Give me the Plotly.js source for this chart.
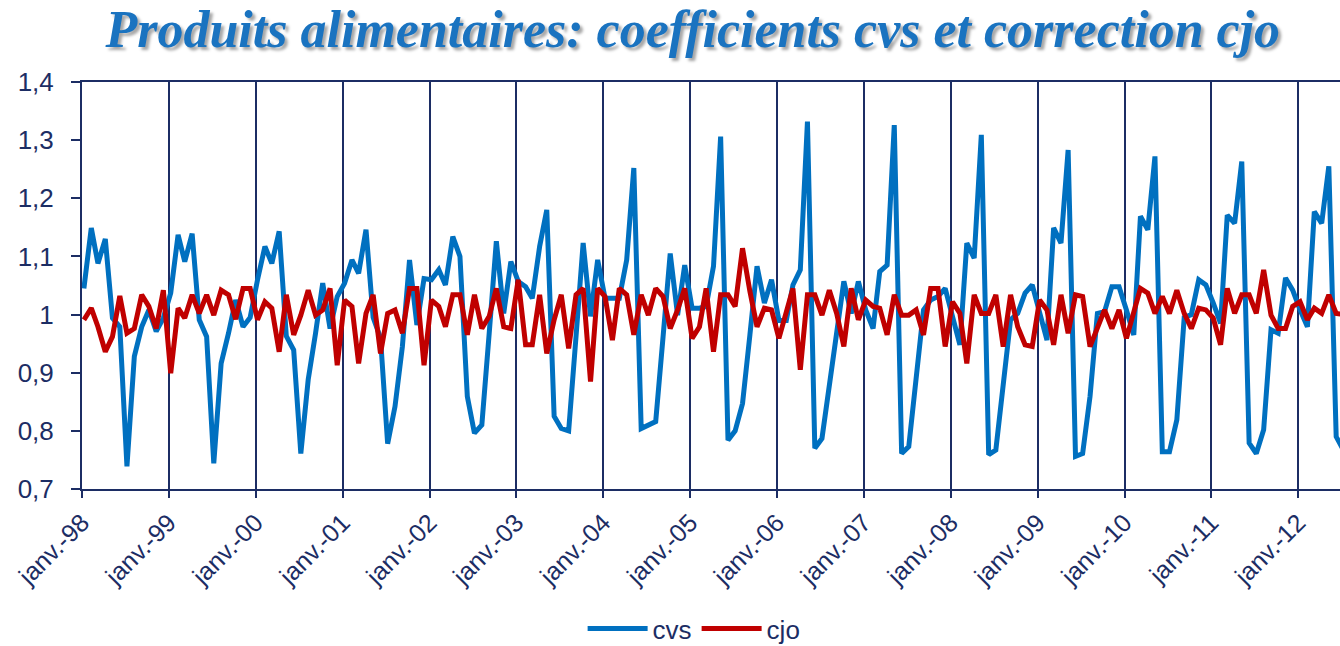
<!DOCTYPE html>
<html>
<head>
<meta charset="utf-8">
<script src="https://cdn.plot.ly/plotly-3.0.1.min.js"></script>
<style>html,body{margin:0;padding:0;background:#fff;}#chart{width:1340px;height:646px;}</style>
</head>
<body>
<div id="chart"></div>
<script>
// Monthly series, January 1998 onwards
const startYear = 1998;
const cvs = [
  1.045, 1.149, 1.088, 1.130, 0.994, 0.979, 0.739, 0.928, 0.979, 1.008, 0.971, 0.994,
  1.037, 1.137, 1.091, 1.139, 0.991, 0.962, 0.744, 0.916, 0.968, 1.025, 0.979, 0.995,
  1.060, 1.117, 1.088, 1.143, 0.963, 0.939, 0.761, 0.888, 0.968, 1.054, 0.976, 1.031,
  1.054, 1.094, 1.071, 1.146, 0.995, 0.960, 0.778, 0.842, 0.945, 1.094, 0.982, 1.062,
  1.060, 1.077, 1.051, 1.134, 1.100, 0.859, 0.796, 0.810, 0.968, 1.126, 1.002, 1.091,
  1.057, 1.048, 1.028, 1.117, 1.180, 0.825, 0.804, 0.800, 0.962, 1.123, 0.997, 1.094,
  1.028, 1.028, 1.028, 1.094, 1.252, 0.804, 0.810, 0.816, 0.962, 1.105, 0.999, 1.085,
  1.011, 1.011, 1.014, 1.083, 1.306, 0.784, 0.800, 0.847, 0.965, 1.083, 1.020, 1.060,
  0.990, 0.990, 1.051, 1.077, 1.332, 0.770, 0.787, 0.876, 0.968, 1.057, 1.002, 1.057,
  1.008, 0.976, 1.074, 1.085, 1.326, 0.761, 0.773, 0.888, 1.008, 1.025, 1.031, 1.045,
  0.995, 0.948, 1.123, 1.097, 1.309, 0.759, 0.767, 0.888, 0.991, 1.002, 1.037, 1.051,
  1.002, 0.956, 1.149, 1.123, 1.283, 0.756, 0.761, 0.859, 1.002, 1.005, 1.048, 1.048,
  1.008, 0.965, 1.169, 1.146, 1.272, 0.764, 0.764, 0.819, 0.995, 1.000, 1.060, 1.051,
  1.020, 0.985, 1.171, 1.157, 1.263, 0.779, 0.761, 0.802, 0.974, 0.968, 1.063, 1.042,
  1.008, 0.979, 1.177, 1.157, 1.255, 0.790, 0.767
];
const cjo = [
  0.991, 1.011, 0.979, 0.936, 0.962, 1.032, 0.968, 0.976, 1.034, 1.014, 0.976, 1.042,
  0.899, 1.011, 0.994, 1.034, 1.002, 1.034, 0.999, 1.042, 1.034, 0.992, 1.045, 1.045,
  0.991, 1.022, 1.011, 0.936, 1.034, 0.965, 0.999, 1.042, 0.999, 1.008, 1.045, 0.913,
  1.025, 1.014, 0.916, 1.002, 1.034, 0.933, 1.002, 1.008, 0.968, 1.045, 1.045, 0.913,
  1.025, 1.014, 0.979, 1.034, 1.034, 0.965, 1.034, 0.976, 0.997, 1.045, 0.979, 0.976,
  1.060, 0.948, 0.948, 1.034, 0.933, 0.991, 1.034, 0.942, 1.034, 1.045, 0.885, 1.045,
  1.031, 0.956, 1.045, 1.034, 0.965, 1.034, 0.999, 1.045, 1.031, 0.976, 1.008, 1.045,
  0.959, 0.979, 1.045, 0.936, 1.034, 1.034, 1.014, 1.114, 1.040, 0.979, 1.011, 1.008,
  0.959, 1.002, 1.045, 0.905, 1.034, 1.034, 0.999, 1.042, 1.002, 0.945, 1.045, 0.991,
  1.025, 1.014, 1.011, 0.965, 1.034, 0.999, 0.999, 1.008, 0.965, 1.045, 1.045, 0.945,
  1.022, 1.002, 0.916, 1.034, 1.002, 1.002, 1.034, 0.945, 1.034, 0.979, 0.948, 0.945,
  1.025, 1.008, 0.948, 1.034, 0.968, 1.034, 1.031, 0.945, 0.975, 1.008, 0.976, 1.008,
  0.959, 1.008, 1.045, 1.037, 1.002, 1.031, 1.002, 1.042, 1.002, 0.976, 1.011, 1.008,
  0.994, 0.948, 1.045, 1.002, 1.034, 1.034, 1.002, 1.077, 0.999, 0.976, 0.976, 1.014,
  1.022, 0.991, 1.011, 1.002, 1.034, 1.002, 1.000
];
const yearTickLabels = ["janv.-98","janv.-99","janv.-00","janv.-01","janv.-02","janv.-03","janv.-04",
  "janv.-05","janv.-06","janv.-07","janv.-08","janv.-09","janv.-10","janv.-11","janv.-12"];
const yTickValues = [0.7, 0.8, 0.9, 1.0, 1.1, 1.2, 1.3, 1.4];
const yTickLabels = ["0,7", "0,8", "0,9", "1", "1,1", "1,2", "1,3", "1,4"];

// month dates for the categories
const months = cvs.map((_, i) => {
  const y = startYear + Math.floor(i / 12);
  const m = (i % 12) + 1;
  return y + "-" + String(m).padStart(2, "0") + "-09";
});
const yearTicks = yearTickLabels.map((_, k) => (startYear + k) + "-01-01");

const navy = "#1c2d64";
const axisFont = {family: "Liberation Sans, Arial, sans-serif", size: 25, color: navy};
const traces = [
  {x: months, y: cvs, name: "cvs", type: "scatter", mode: "lines",
   line: {color: "#0070c0", width: 5}},
  {x: months, y: cjo, name: "cjo", type: "scatter", mode: "lines",
   line: {color: "#c00000", width: 5}}
];
const layout = {
  width: 1340, height: 646,
  margin: {l: 82, r: 0, t: 82, b: 157, pad: 0, autoexpand: false},
  paper_bgcolor: "#ffffff", plot_bgcolor: "#ffffff",
  title: {
    text: "Produits alimentaires: coefficients cvs et correction cjo",
    x: 0.517, xanchor: "center", y: 0.956, yanchor: "middle",
    font: {family: "Liberation Serif, serif", size: 52, color: "#1a73c0",
           weight: "bold", style: "italic", shadow: "3px 3px 3px rgba(0,0,0,0.35)"}
  },
  xaxis: {
    type: "date",
    range: ["1998-01-01", "2012-06-25"],
    tickmode: "array", tickvals: yearTicks, ticktext: yearTickLabels,
    tickangle: -45, ticks: "outside", ticklen: 7, tickwidth: 2, tickcolor: navy,
    tickfont: axisFont,
    showgrid: true, gridcolor: navy, gridwidth: 2,
    showline: true, linecolor: navy, linewidth: 2, mirror: true,
    zeroline: false, fixedrange: true, automargin: false
  },
  yaxis: {
    range: [0.7, 1.4],
    tickmode: "array", tickvals: yTickValues, ticktext: yTickLabels,
    ticks: "outside", ticklen: 9, tickwidth: 2, tickcolor: navy,
    ticklabelstandoff: 12,
    tickfont: {family: "Liberation Sans, Arial, sans-serif", size: 26, color: navy},
    showgrid: false, showline: true, linecolor: navy, linewidth: 2,
    zeroline: false, fixedrange: true, automargin: false
  },
  showlegend: true,
  legend: {
    orientation: "h", xref: "container", yref: "container",
    x: 0.518, xanchor: "center", y: 0.027, yanchor: "middle",
    font: {family: "Liberation Sans, Arial, sans-serif", size: 26, color: navy},
    itemwidth: 60, tracegroupgap: 0
  }
};
Plotly.newPlot("chart", traces, layout, {displayModeBar: false, staticPlot: true});
</script>
</body>
</html>
